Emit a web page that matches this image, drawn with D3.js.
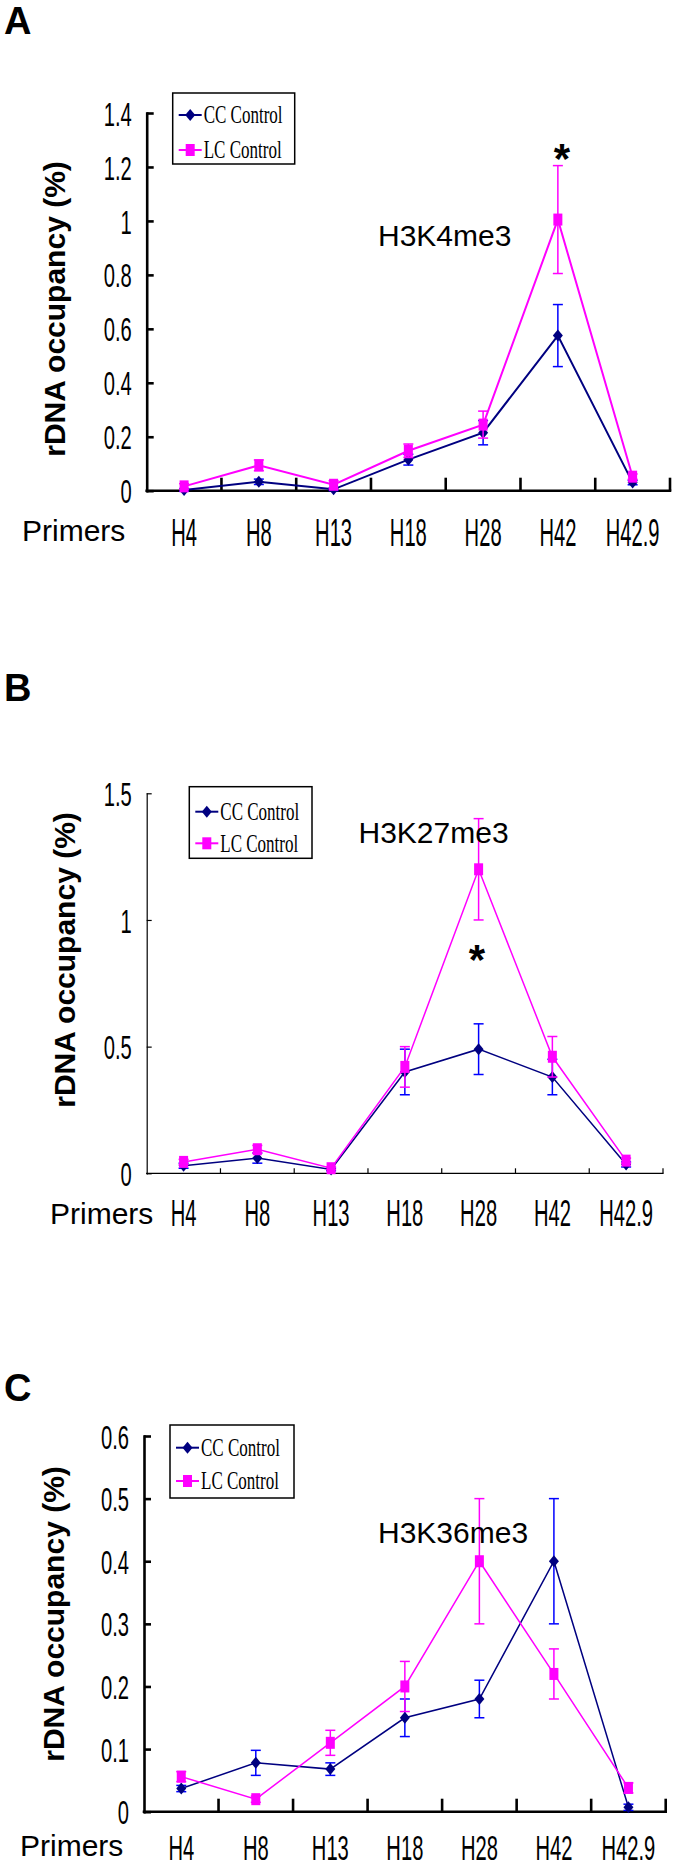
<!doctype html>
<meta charset="utf-8">
<title>rDNA occupancy</title>
<script src="https://cdn.jsdelivr.net/npm/d3@7"></script>
<style>
body { margin: 0; background: #fff; }
svg { display: block; }
</style>
<body>
<svg id="fig" width="675" height="1869"></svg>
<script>

var primers = ['H4', 'H8', 'H13', 'H18', 'H28', 'H42', 'H42.9'];

// H3K4me3
var k4_cc    = [0.003, 0.033, 0.005, 0.115, 0.215, 0.575, 0.03]
  , k4_ccErr = [0.005, 0.01, 0.005, 0.02, 0.045, 0.115, 0.008]
  , k4_lc    = [0.016, 0.094, 0.022, 0.148, 0.245, 1.005, 0.052]
  , k4_lcErr = [0.01, 0.02, 0.015, 0.025, 0.05, 0.2, 0.01]
  , k4_ticks = [0, 0.2, 0.4, 0.6, 0.8, 1, 1.2, 1.4];

// H3K27me3
var k27_cc    = [0.03, 0.06, 0.015, 0.40, 0.49, 0.38, 0.035]
  , k27_ccErr = [0.01, 0.02, 0.005, 0.09, 0.1, 0.07, 0.01]
  , k27_lc    = [0.045, 0.095, 0.02, 0.42, 1.2, 0.46, 0.05]
  , k27_lcErr = [0.01, 0.015, 0.005, 0.08, 0.2, 0.08, 0.01]
  , k27_ticks = [0, 0.5, 1, 1.5];

// H3K36me3
var k36_cc    = [0.037, 0.078, 0.068, 0.15, 0.18, 0.4, 0.007]
  , k36_ccErr = [0.005, 0.02, 0.01, 0.03, 0.03, 0.1, 0.005]
  , k36_lc    = [0.056, 0.02, 0.11, 0.2, 0.4, 0.22, 0.038]
  , k36_lcErr = [0.008, 0.005, 0.02, 0.04, 0.1, 0.04, 0.008]
  , k36_ticks = [0, 0.1, 0.2, 0.3, 0.4, 0.5, 0.6];

var seriesNames = ['CC Control', 'LC Control'];

var ccLine = '#000080', ccErrCol = '#0000ff', lcCol = '#ff00ff';
var sans = 'Liberation Sans, Arial, sans-serif'
  , serif = 'Liberation Serif, Times New Roman, serif';

var panels = [
  { letter: 'A', letterY: 34, mark: 'H3K4me3', markX: 378, markY: 246,
    cc: k4_cc, ccErr: k4_ccErr, lc: k4_lc, lcErr: k4_lcErr, ticks: k4_ticks,
    left: 146.7, right: 670, top: 113, bottom: 490.7,
    axisW: 2.6, yTick: 7, xTick: 13, lw: 2,
    legend: { x: 172.7, y: 93, w: 122, h: 71, r1: 22, r2: 57 },
    star: [562, 172.5], ylab: [65, 309], primX: 22, primY: 541, labY: 546, labSy: 1.6 },
  { letter: 'B', letterY: 701, mark: 'H3K27me3', markX: 358.5, markY: 842.5,
    cc: k27_cc, ccErr: k27_ccErr, lc: k27_lc, lcErr: k27_lcErr, ticks: k27_ticks,
    left: 146.7, right: 663, top: 793.3, bottom: 1173.3,
    axisW: 1.2, yTick: 5, xTick: 5, lw: 1.5,
    legend: { x: 189.3, y: 786.7, w: 122.7, h: 71.6, r1: 25, r2: 56.6 },
    star: [477, 973.5], ylab: [75, 960], primX: 50, primY: 1224, labY: 1226, labSy: 1.5 },
  { letter: 'C', letterY: 1401, mark: 'H3K36me3', markX: 378, markY: 1543,
    cc: k36_cc, ccErr: k36_ccErr, lc: k36_lc, lcErr: k36_lcErr, ticks: k36_ticks,
    left: 144, right: 665.7, top: 1436, bottom: 1811.7,
    axisW: 2.6, yTick: 7, xTick: 13, lw: 1.5,
    legend: { x: 170, y: 1425, w: 124, h: 73, r1: 22.7, r2: 56 },
    star: null, ylab: [63.5, 1614], primX: 20, primY: 1856, labY: 1860, labSy: 1.45 }
];

var svg = d3.select('#fig');

function drawMarker(sel, shape, color) {
  if (shape === 'square') {
    sel.append('rect')
      .attr('x', -4.5).attr('y', -6)
      .attr('width', 9).attr('height', 12)
      .attr('fill', color);
  } else {
    sel.append('path')
      .attr('d', 'M0,-6L5,0L0,6L-5,0Z')
      .attr('fill', color);
  }
}

function drawSeries(g, p, x, y, vals, errs, lineCol, errCol, shape) {
  var cx = function(i) { return x(primers[i]) + x.bandwidth() / 2; };

  var eb = g.append('g').attr('stroke', errCol).attr('stroke-width', 1.5);
  vals.forEach(function(v, i) {
    var lo = y(v - errs[i]), hi = y(v + errs[i]), xx = cx(i);
    eb.append('line').attr('x1', xx).attr('x2', xx).attr('y1', lo).attr('y2', hi);
    eb.append('line').attr('x1', xx - 5).attr('x2', xx + 5).attr('y1', lo).attr('y2', lo);
    eb.append('line').attr('x1', xx - 5).attr('x2', xx + 5).attr('y1', hi).attr('y2', hi);
  });

  g.append('path')
    .datum(vals)
    .attr('fill', 'none')
    .attr('stroke', lineCol)
    .attr('stroke-width', p.lw)
    .attr('d', d3.line().x(function(d, i) { return cx(i); }).y(function(d) { return y(d); }));

  vals.forEach(function(v, i) {
    var m = g.append('g').attr('transform', 'translate(' + cx(i) + ',' + y(v) + ')');
    drawMarker(m, shape, lineCol);
  });
}

panels.forEach(function(p) {
  var g = svg.append('g');
  var x = d3.scaleBand().domain(primers).range([p.left, p.right]);
  var y = d3.scaleLinear().domain([0, p.ticks[p.ticks.length - 1]]).range([p.bottom, p.top]);

  // panel letter
  g.append('text')
    .attr('x', 4).attr('y', p.letterY)
    .attr('font-family', sans).attr('font-weight', 'bold').attr('font-size', 38)
    .text(p.letter);

  // y axis, ticks pointing inward
  var ya = g.append('g')
    .attr('transform', 'translate(' + p.left + ',0)')
    .call(d3.axisLeft(y).tickValues(p.ticks).tickSizeInner(-p.yTick).tickSizeOuter(0)
      .tickPadding(15).tickFormat(String));
  ya.select('.domain').attr('stroke-width', p.axisW).attr('stroke-linecap', 'square');
  ya.selectAll('.tick line').attr('stroke-width', p.axisW);
  ya.selectAll('.tick text')
    .attr('font-family', sans).attr('font-size', 24).attr('fill', '#000')
    .attr('x', -15 / 0.84).attr('dy', '0.36em')
    .attr('transform', 'scale(0.84,1.4)');

  // x axis with ticks between categories
  g.append('line')
    .attr('x1', p.left).attr('x2', p.right)
    .attr('y1', p.bottom).attr('y2', p.bottom)
    .attr('stroke', '#000').attr('stroke-width', p.axisW).attr('stroke-linecap', 'square');
  var bounds = primers.slice(1).map(function(d) { return x(d); }).concat([p.right]);
  g.selectAll('line.xtick').data(bounds).enter().append('line')
    .attr('class', 'xtick')
    .attr('x1', function(d) { return d; }).attr('x2', function(d) { return d; })
    .attr('y1', p.bottom).attr('y2', p.bottom - p.xTick)
    .attr('stroke', '#000').attr('stroke-width', p.axisW);
  g.selectAll('text.xlab').data(primers).enter().append('text')
    .attr('class', 'xlab')
    .attr('text-anchor', 'middle')
    .attr('font-family', sans).attr('font-size', 24)
    .attr('transform', function(d) {
      return 'translate(' + (x(d) + x.bandwidth() / 2) + ',' + p.labY + ') scale(0.84,' + p.labSy + ')';
    })
    .text(function(d) { return d; });

  g.append('text')
    .attr('x', p.primX).attr('y', p.primY)
    .attr('font-family', sans).attr('font-size', 30)
    .text('Primers');

  g.append('text')
    .attr('transform', 'translate(' + p.ylab[0] + ',' + p.ylab[1] + ') rotate(-90)')
    .attr('text-anchor', 'middle')
    .attr('font-family', sans).attr('font-weight', 'bold').attr('font-size', 30)
    .text('rDNA occupancy (%)');

  // series
  drawSeries(g, p, x, y, p.cc, p.ccErr, ccLine, ccErrCol, 'diamond');
  drawSeries(g, p, x, y, p.lc, p.lcErr, lcCol, lcCol, 'square');

  // histone mark label
  g.append('text')
    .attr('x', p.markX).attr('y', p.markY)
    .attr('font-family', sans).attr('font-size', 30)
    .text(p.mark);

  if (p.star) {
    g.append('text')
      .attr('x', p.star[0]).attr('y', p.star[1])
      .attr('text-anchor', 'middle')
      .attr('font-family', sans).attr('font-weight', 'bold').attr('font-size', 42)
      .text('*');
  }

  // legend
  var L = p.legend;
  var lg = g.append('g').attr('transform', 'translate(' + L.x + ',' + L.y + ')');
  lg.append('rect')
    .attr('width', L.w).attr('height', L.h)
    .attr('fill', '#fff').attr('stroke', '#000').attr('stroke-width', 1.5);
  [[L.r1, ccLine, 'diamond'], [L.r2, lcCol, 'square']].forEach(function(r, i) {
    lg.append('line')
      .attr('x1', 6).attr('x2', 29).attr('y1', r[0]).attr('y2', r[0])
      .attr('stroke', r[1]).attr('stroke-width', 2);
    drawMarker(lg.append('g').attr('transform', 'translate(17.5,' + r[0] + ')'), r[2], r[1]);
    lg.append('text')
      .attr('transform', 'translate(31,' + (r[0] + 8.3) + ') scale(1,1.48)')
      .attr('font-family', serif).attr('font-size', 17)
      .text(seriesNames[i]);
  });
});

</script>
</body>
